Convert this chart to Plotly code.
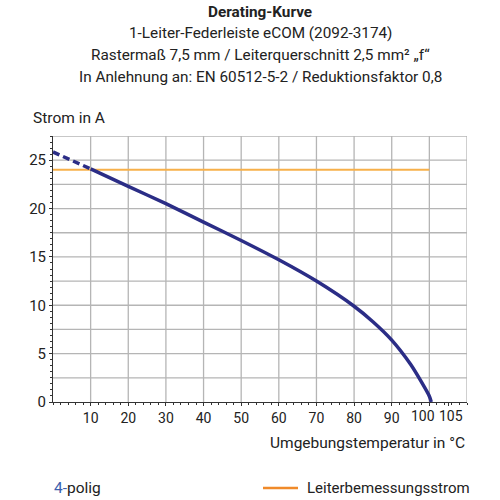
import plotly.graph_objects as go

# Data
curve_dash_x = [0, 10]
curve_dash_y = [25.85, 24.1]
curve_x = [10, 20, 30, 40, 50, 60, 70, 80, 85, 90, 95, 98, 100, 100.5]
curve_y = [24.1, 22.3, 20.5, 18.6, 16.7, 14.7, 12.5, 9.9, 8.3, 6.4, 3.9, 2.0, 0.6, 0.0]
rated_x = [0, 100]
rated_y = [24, 24]
x_tickvals = [10, 20, 30, 40, 50, 60, 70, 80, 90, 100, 105]
x_ticktext = ["10", "20", "30", "40", "50", "60", "70", "80", "90", "", ""]
crowded_ticks = [(100, "100", "right"), (105, "105", "left")]
y_tickvals = [0, 5, 10, 15, 20, 25]

title_lines = [
    "Derating-Kurve",
    "1-Leiter-Federleiste eCOM (2092-3174)",
    "Rastermaß 7,5 mm / Leiterquerschnitt 2,5 mm² „f“",
    "In Anlehnung an: EN 60512-5-2 / Reduktionsfaktor 0,8",
]

FONT = "Roboto, Arial, sans-serif"
NAVY = "#2b2d86"
ORANGE = "#f08a2a"
TXT = "#222222"

fig = go.Figure()
fig.add_trace(go.Scatter(x=rated_x, y=rated_y, mode="lines",
                         line=dict(color="#f7b04a", width=2), hoverinfo="skip"))
fig.add_trace(go.Scatter(x=curve_dash_x, y=curve_dash_y, mode="lines",
                         line=dict(color=NAVY, width=3.5, dash="7px,4px"), hoverinfo="skip"))
fig.add_trace(go.Scatter(x=curve_x, y=curve_y, mode="lines",
                         line=dict(color=NAVY, width=3.5, shape="spline", smoothing=0.8),
                         hoverinfo="skip"))

L, R, T, B = 53, 33, 136, 98
W = H = 500
pw = W - L - R
ph = H - T - B

def px(x):
    return (x - L) / pw

def py(y):
    return (H - B - y) / ph

fig.update_layout(
    width=W, height=H,
    margin=dict(l=L, r=R, t=T, b=B),
    paper_bgcolor="white", plot_bgcolor="white",
    showlegend=False,
    font=dict(family=FONT, size=15, color=TXT),
    xaxis=dict(range=[0, 110], tickvals=x_tickvals, ticktext=x_ticktext,
               tickangle=0,
               showgrid=False, zeroline=False,
               showline=True, linecolor="#333333", linewidth=1,
               ticks="outside", ticklen=3, tickcolor="#333333",
               minor=dict(dtick=2, ticks="outside", ticklen=2, tickcolor="#333333"),
               tickfont=dict(family=FONT, size=14, color=TXT), fixedrange=True),
    yaxis=dict(range=[0, 27.5], tickvals=y_tickvals, showgrid=False, zeroline=False,
               showline=True, linecolor="#333333", linewidth=1,
               ticks="outside", ticklen=3, tickcolor="#333333",
               minor=dict(dtick=0.625, ticks="outside", ticklen=2, tickcolor="#333333"),
               tickfont=dict(family=FONT, size=15, color=TXT), fixedrange=True),
)

# grid lines (vertical every 10, horizontal every 2.5) plus top/right border
shapes = []
for gx in range(10, 111, 10):
    shapes.append(dict(type="line", xref="x", yref="paper", x0=gx, x1=gx, y0=0, y1=1,
                       line=dict(color="#b5b5b5", width=1.3), layer="below"))
for i in range(1, 12):
    gy = i * 2.5
    shapes.append(dict(type="line", xref="paper", yref="y", x0=0, x1=1, y0=gy, y1=gy,
                       line=dict(color="#b5b5b5", width=1.3), layer="below"))
# legend line
shapes.append(dict(type="line", xref="paper", yref="paper", x0=px(263), x1=px(298),
                   y0=py(488), y1=py(488), line=dict(color=ORANGE, width=2.5)))
fig.update_layout(shapes=shapes)

ann = []
# crowded tick labels at 100 / 105, nudged apart so they don't collide
for val, lab, anchor in crowded_ticks:
    ann.append(dict(text=lab, x=val, xref="x", y=py(416), yref="paper",
                    xanchor=anchor, yanchor="middle", showarrow=False,
                    xshift=(8 if anchor == "right" else -11),
                    font=dict(family=FONT, size=14, color=TXT)))
title_y = [12, 33, 55, 77]
for i, (t, yy) in enumerate(zip(title_lines, title_y)):
    txt = f"<b>{t}</b>" if i == 0 else t
    ann.append(dict(text=txt, x=0.5, xref="paper", y=py(yy), yref="paper",
                    xanchor="center", yanchor="middle", showarrow=False,
                    font=dict(family=FONT, size=15.3, color=TXT)))
ann.append(dict(text="Strom in A", x=px(31), y=py(118), xref="paper", yref="paper",
                xanchor="left", yanchor="middle", showarrow=False,
                font=dict(family=FONT, size=15.5, color=TXT)))
ann.append(dict(text="Umgebungstemperatur in °C", x=px(467), y=py(443), xref="paper", yref="paper",
                xanchor="right", yanchor="middle", showarrow=False,
                font=dict(family=FONT, size=15.5, color=TXT)))
ann.append(dict(text="<span style='color:#3b5fae'>4-</span>polig", x=px(52), y=py(488),
                xref="paper", yref="paper", xanchor="left", yanchor="middle", showarrow=False,
                font=dict(family=FONT, size=15.5, color=TXT)))
ann.append(dict(text="Leiterbemessungsstrom", x=px(305), y=py(488),
                xref="paper", yref="paper", xanchor="left", yanchor="middle", showarrow=False,
                font=dict(family=FONT, size=15, color=TXT)))
fig.update_layout(annotations=ann)

fig.write_html("out.html")
